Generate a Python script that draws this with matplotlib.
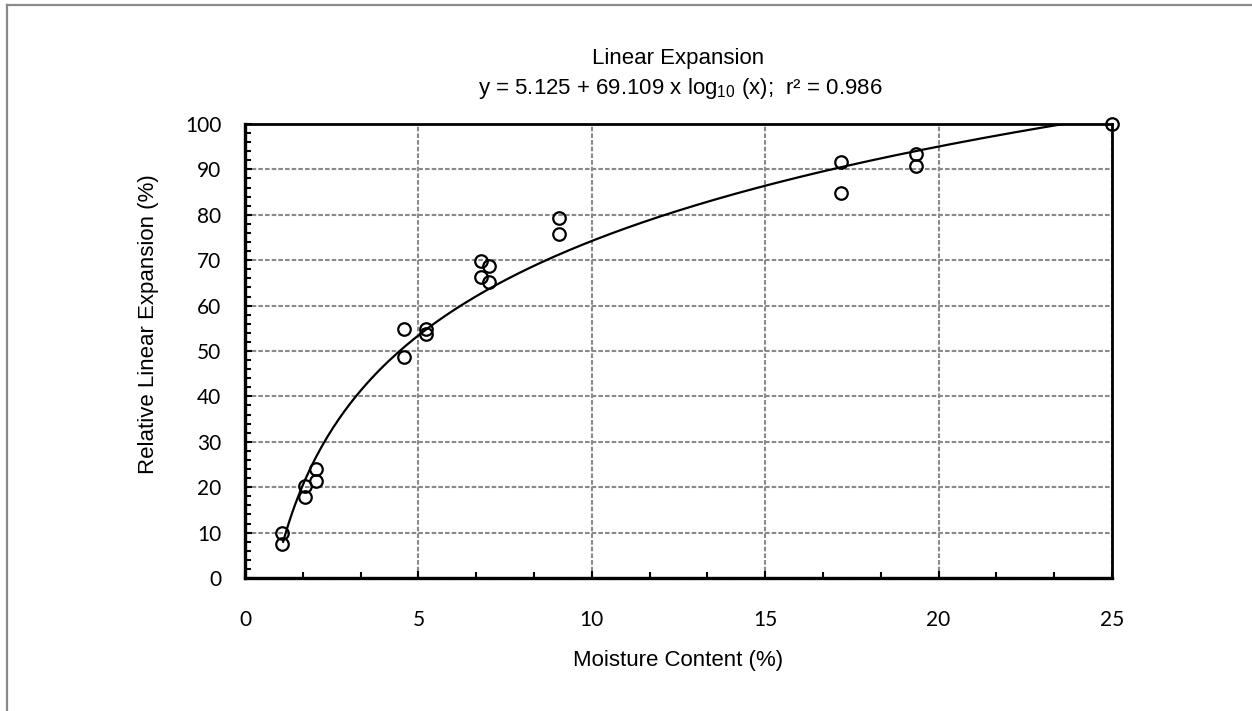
import numpy as np
import matplotlib
matplotlib.use('Agg')
import matplotlib.pyplot as plt
from matplotlib.ticker import MultipleLocator
from matplotlib.lines import Line2D

# Fit coefficients (from the title)
FIT_A = 5.125
FIT_B = 69.109
FIT_X_START = 1.1
FIT_X_END = 25

moisture = [1.08, 1.08, 1.74, 1.74, 2.05, 2.05, 4.59, 4.59, 5.22, 5.22,
            6.80, 6.80, 7.04, 7.04, 9.06, 9.06, 17.19, 17.19, 19.34, 19.34, 25.0]
expansion = [9.9, 7.5, 20.3, 17.9, 24.0, 21.4, 54.8, 48.6, 54.8, 53.7,
             69.8, 66.2, 68.7, 65.3, 79.2, 75.8, 91.6, 84.7, 93.3, 90.8, 100.0]

x_ticks = [0, 5, 10, 15, 20, 25]
y_ticks = [0, 10, 20, 30, 40, 50, 60, 70, 80, 90, 100]

plt.rcParams['mathtext.fontset'] = 'custom'
plt.rcParams['mathtext.rm'] = 'Liberation Sans'
plt.rcParams['mathtext.it'] = 'Liberation Sans'

fig = plt.figure(figsize=(12.52, 7.11), dpi=100)
ax = fig.add_axes([245 / 1252, 1 - 578 / 711, 867 / 1252, 454 / 711])

# fitted curve
xs = np.linspace(FIT_X_START, FIT_X_END, 300)
ax.plot(xs, FIT_A + FIT_B * np.log10(xs), color='black', lw=1.6, zorder=3)

ax.plot(moisture, expansion, linestyle='none', marker='o', markersize=9,
        markerfacecolor='none', markeredgecolor='black', markeredgewidth=1.6,
        zorder=4, clip_on=False)

ax.set_xlim(0, 25)
ax.set_ylim(0, 100)
ax.set_xticks(x_ticks)
ax.set_yticks(y_ticks)
ax.xaxis.set_minor_locator(MultipleLocator(5 / 3))
ax.yaxis.set_minor_locator(MultipleLocator(2))

ax.grid(True, which='major', color='#8a8a8a', linestyle=(0, (2.2, 1)), lw=1.5, zorder=1)
ax.tick_params(which='both', direction='in', width=1.5, color='black',
               top=False, right=False)
ax.tick_params(which='major', length=5)
ax.tick_params(which='minor', length=4)
ax.tick_params(axis='x', which='major', pad=23)
ax.tick_params(axis='y', which='major', pad=17)

for lab in ax.get_xticklabels() + ax.get_yticklabels():
    lab.set_fontfamily('Lato')
    lab.set_fontsize(15)

for side in ['top', 'right']:
    ax.spines[side].set_linewidth(2)
for side in ['left', 'bottom']:
    ax.spines[side].set_linewidth(2.4)

ax.set_xlabel('Moisture Content (%)', fontfamily='Liberation Sans', fontsize=16)
ax.set_ylabel('Relative Linear Expansion (%)', fontfamily='Liberation Sans', fontsize=16)
ax.xaxis.set_label_coords(0.5, -0.158)
ax.yaxis.set_label_coords(-0.099, 0.56)

fig.text(678 / 1252, 1 - 64 / 711, 'Linear Expansion', ha='center', va='baseline',
         fontfamily='Liberation Sans', fontsize=16)
fig.text(680 / 1252, 1 - 94 / 711,
         'y = 5.125 + 69.109 x log$_{10}$ (x);  r\u00b2 = 0.986',
         ha='center', va='baseline', fontfamily='Liberation Sans', fontsize=16)

# gray frame on top and left edge
fig.add_artist(Line2D([6.5 / 1252, 1], [1 - 5 / 711, 1 - 5 / 711],
                      transform=fig.transFigure, color='#8a8a8a', lw=1.6))
fig.add_artist(Line2D([7 / 1252, 7 / 1252], [0, 1 - 5 / 711],
                      transform=fig.transFigure, color='#8a8a8a', lw=1.6))

fig.savefig('out.png', dpi=100)
